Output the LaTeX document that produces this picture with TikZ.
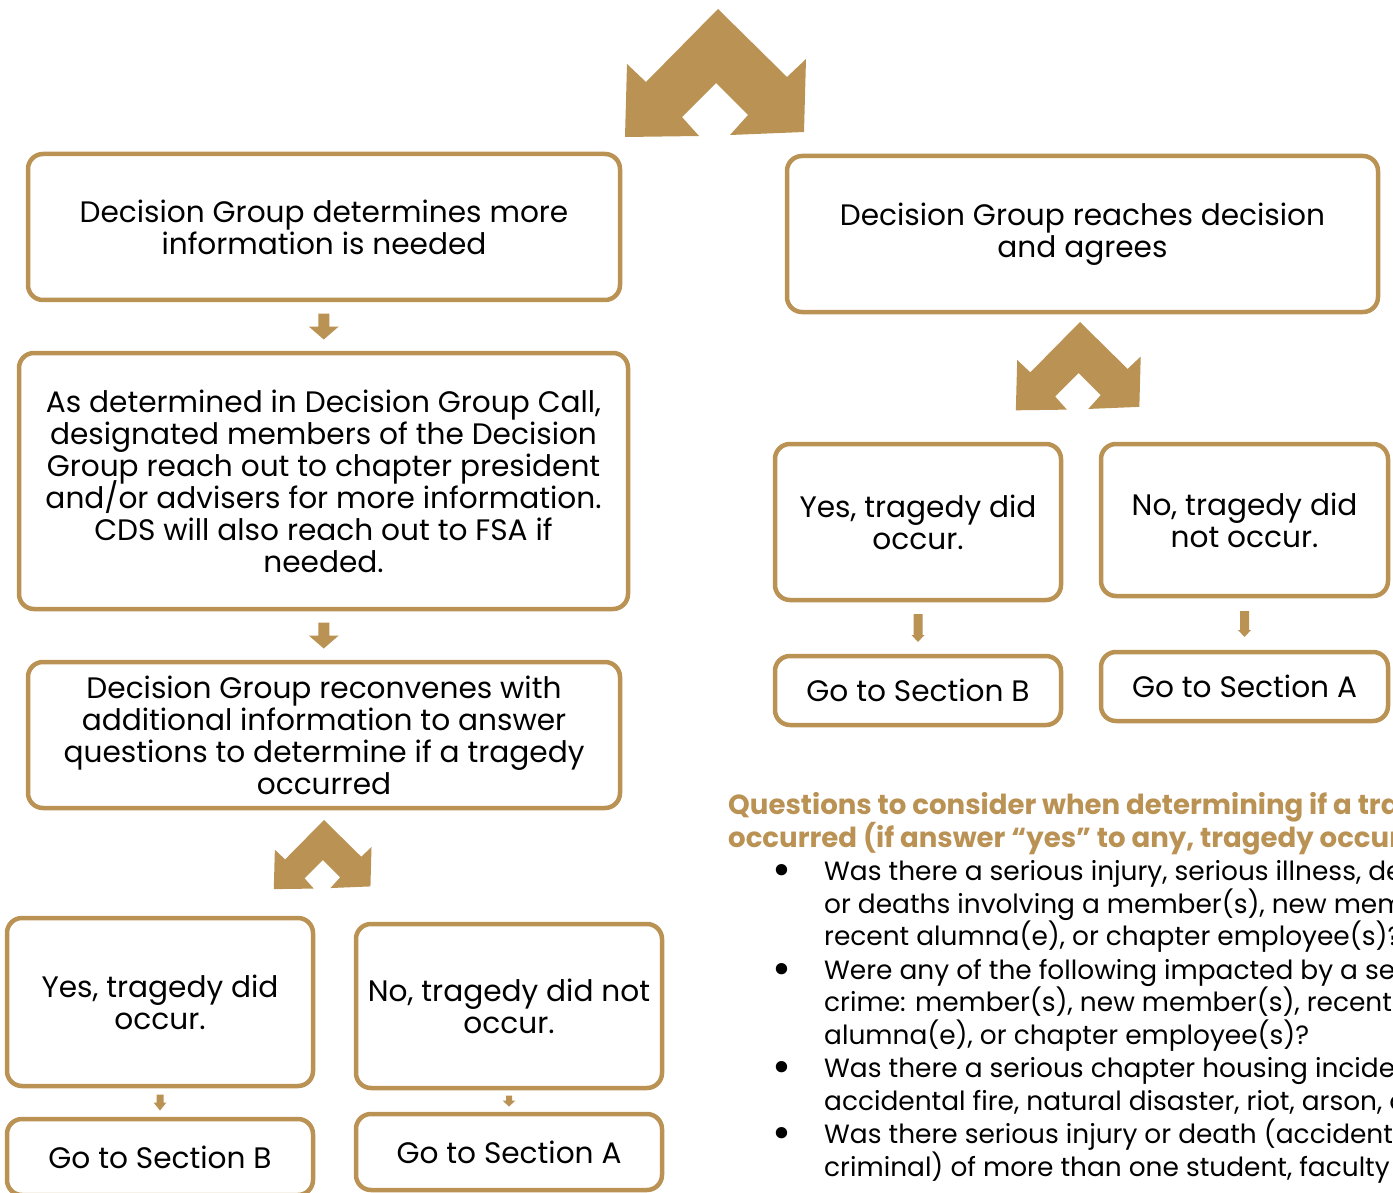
\documentclass[tikz,border=0pt]{standalone}
\usepackage{fontspec}
\setmainfont{Poppins}
\usetikzlibrary{calc}
\lineskiplimit=-20pt
\definecolor{gold}{RGB}{186,146,84}
\tikzset{
  box/.style={draw=gold, line width=4.5pt, rounded corners=15pt, align=center, inner sep=0pt,
    font=\fontsize{29.6}{32}\selectfont, text=black},
  qline/.style={anchor=base west, inner sep=0pt, font=\fontsize{26.4}{32.5}\selectfont},
  qhead/.style={anchor=base west, inner sep=0pt, font=\fontsize{27.6}{33}\selectfont\bfseries, text=gold},
  qbul/.style={anchor=base, inner sep=0pt, font=\fontsize{46}{46}\selectfont},
  pics/chev/.style={code={
    \fill[gold] (0,0) -- (69,68) -- (88,50) -- (86,123) -- (12,126) -- (30,106) -- (-2,74)
      -- (-36,108) -- (-19,127) -- (-93,128) -- (-91,55) -- (-72,73) -- cycle;}},
  pics/barrow/.style n args={4}{code={
    \fill[gold] (-#1,{-#3/2}) -- (#1,{-#3/2}) -- (#1,{#3/2-#4}) -- (#2,{#3/2-#4}) -- (0,{#3/2})
      -- (-#2,{#3/2-#4}) -- (-#1,{#3/2-#4}) -- cycle;}}
}
\begin{document}
\begin{tikzpicture}[x=1pt,y=-1pt]
\useasboundingbox (0,0) rectangle (1393,1193);
\clip (0,0) rectangle (1393,1193);
\fill[white] (0,0) rectangle (1393,1193);

% chevrons
\pic at (718,9) {chev};
\pic[scale=0.69] at (1080,322) {chev};
\pic[scale=0.54] at (324,820) {chev};

% left column
\node[box, minimum width=592pt, minimum height=146pt] (b1) at (324,227)
  {Decision Group determines more\\information is needed};
\node[box, minimum width=609pt, minimum height=256pt] (b2) at (323.5,481)
  {As determined in Decision Group Call,\\designated members of the Decision\\Group reach out to chapter president\\and/or advisers for more information.\\CDS will also reach out to FSA if\\needed.};
\node[box, minimum width=592pt, minimum height=146pt] (b3) at (324,735)
  {Decision Group reconvenes with\\additional information to answer\\questions to determine if a tragedy\\occurred};
\node[box, minimum width=306pt, minimum height=168pt] (b4) at (160,1002)
  {Yes, tragedy did\\occur.};
\node[box, minimum width=306pt, minimum height=164pt] (b5) at (509,1006)
  {No, tragedy did not\\occur.};
\node[box, minimum width=306pt, minimum height=76pt] (b6) at (160,1157)
  {Go to Section B};
\node[box, minimum width=306pt, minimum height=76pt] (b7) at (509,1152)
  {Go to Section A};

% right column
\node[box, minimum width=591pt, minimum height=156pt] (b8) at (1082.5,234)
  {Decision Group reaches decision\\and agrees};
\node[box, minimum width=286pt, minimum height=156pt] (b9) at (918,522)
  {Yes, tragedy did\\occur.};
\node[box, minimum width=287pt, minimum height=152pt] (b10) at (1244.5,520)
  {No, tragedy did\\not occur.};
\node[box, minimum width=286pt, minimum height=69pt] (b11) at (918,690.5)
  {Go to Section B};
\node[box, minimum width=287pt, minimum height=69pt] (b12) at (1244.5,686.5)
  {Go to Section A};

% block arrows between boxes
\path ($(b1.south)!0.5!(b2.north)$) pic {barrow={5.5}{15}{26}{13}};
\path ($(b2.south)!0.5!(b3.north)$) pic {barrow={5.5}{15}{26}{13}};
\path ($(b9.south)!0.5!(b11.north)$) pic {barrow={4.5}{6.5}{28}{7}};
\path ($(b10.south)!0.5!(b12.north)$) pic {barrow={4.5}{6.5}{26}{7}};
\path ($(b4.south)!0.5!(b6.north)$) pic {barrow={3.5}{6.5}{16}{8}};
\path ($(b5.south)!0.5!(b7.north)$) pic {barrow={3}{6.5}{11}{6}};

% questions
\node[qhead] (h1) at (728,814) {Questions to consider when determining if a tragedy};
\node[qhead] (h2) at (728,847) {occurred (if answer “yes” to any, tragedy occurred):};
\foreach \y/\t [count=\i] in {
  880/{Was there a serious injury, serious illness, death,},
  913/{or deaths involving a member(s), new member(s),},
  945/{recent alumna(e), or chapter employee(s)?},
  979/{Were any of the following impacted by a serious},
  1011/{crime: member(s), new member(s), recent},
  1044/{alumna(e), or chapter employee(s)?},
  1077/{Was there a serious chapter housing incident},
  1110/{accidental fire, natural disaster, riot, arson, or},
  1143/{Was there serious injury or death (accidental or},
  1176/{criminal) of more than one student, faculty}}
  \node[qline] (ql\i) at (824,\y) {\t};
\foreach \y [count=\i] in {885,984,1082,1148}
  \node[qbul] (qb\i) at (782,\y) {•};
\end{tikzpicture}
\end{document}
